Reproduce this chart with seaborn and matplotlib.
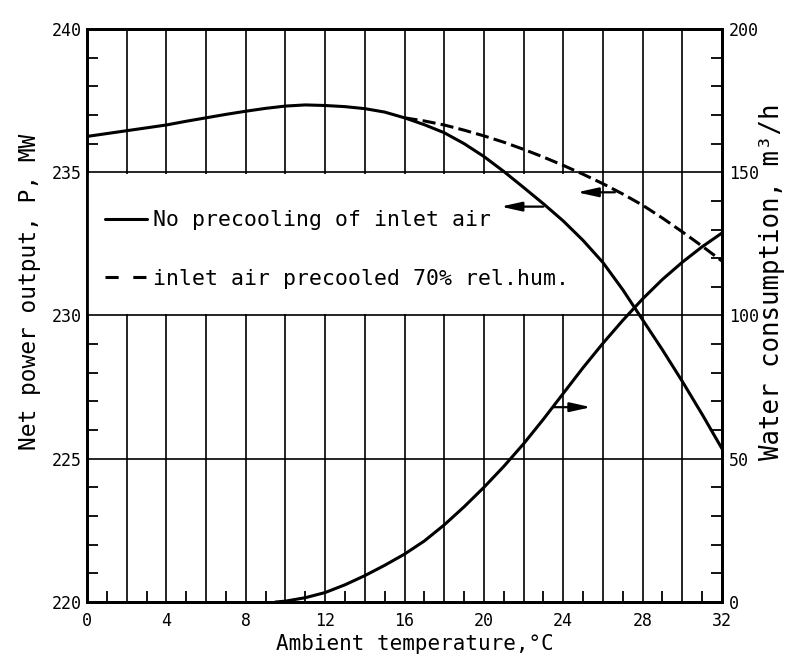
import matplotlib
matplotlib.use("Agg")
import matplotlib.pyplot as plt
import pandas as pd
import seaborn as sns
from matplotlib.lines import Line2D
from matplotlib.patches import Rectangle
from matplotlib.ticker import MultipleLocator, FuncFormatter

# Net power output without inlet-air precooling (MW)
temp_no_precool = [0, 1, 2, 3, 4, 5, 6, 7, 8, 9, 10, 11, 12, 13, 14, 15, 16,
                   17, 18, 19, 20, 21, 22, 23, 24, 25, 26, 27, 28, 29, 30, 31, 32]
power_no_precool = [236.25, 236.35, 236.45, 236.55, 236.65, 236.78, 236.90, 237.02,
                    237.13, 237.23, 237.31, 237.35, 237.33, 237.29, 237.22, 237.10,
                    236.90, 236.66, 236.38, 236.00, 235.55, 235.03, 234.47, 233.90,
                    233.30, 232.62, 231.85, 230.90, 229.85, 228.80, 227.70, 226.55,
                    225.35]

# Net power output with inlet air precooled to 70 % rel. humidity (MW)
temp_precooled = [16, 17, 18, 19, 20, 21, 22, 23, 24, 25, 26, 27, 28, 29, 30, 31, 32]
power_precooled = [236.90, 236.79, 236.65, 236.47, 236.27, 236.05, 235.80, 235.53,
                   235.24, 234.93, 234.60, 234.24, 233.85, 233.40, 232.92, 232.42,
                   231.90]

# Water consumption of the precooler (m3/h)
temp_water = [9.5, 10, 11, 12, 13, 14, 15, 16, 17, 18, 19, 20, 21, 22, 23, 24, 25,
              26, 27, 28, 29, 30, 31, 32]
water_flow = [0.0, 0.3, 1.5, 3.3, 6.0, 9.2, 12.8, 16.7, 21.3, 26.9, 33.2, 40.0,
              47.3, 55.2, 63.8, 72.8, 81.8, 90.3, 98.3, 105.8, 112.6, 118.6, 124.0,
              128.8]

legend_labels = ["No precooling of inlet air",
                 "inlet air precooled 70% rel.hum."]
x_label = "Ambient temperature,°C"
y_label_left = "Net power output, P, MW"
y_label_right = "Water consumption, m³/h"

df_no = pd.DataFrame({"t": temp_no_precool, "p": power_no_precool})
df_pre = pd.DataFrame({"t": temp_precooled, "p": power_precooled})
df_w = pd.DataFrame({"t": temp_water, "w": water_flow})

sns.set_theme(style="white")
plt.rcParams["font.family"] = ["DejaVu Sans Mono", "DejaVu Sans"]
plt.rcParams["text.color"] = "black"
plt.rcParams["axes.labelcolor"] = "black"
plt.rcParams["xtick.color"] = "black"
plt.rcParams["ytick.color"] = "black"

W, H = 793, 659
fig = plt.figure(figsize=(W / 100, H / 100), dpi=100)
left, right, top, bottom = 87, 722, 29, 602
ax = fig.add_axes([left / W, 1 - bottom / H, (right - left) / W, (bottom - top) / H])
ax2 = ax.twinx()

ink = "black"
curve_lw = 2.2
grid_lw = 1.2

ax.set_xlim(0, 32)
ax.set_ylim(220, 240)
ax2.set_ylim(0, 200)

# vertical grid every 2 degC, labels every 4
ax.xaxis.set_major_locator(MultipleLocator(2))
ax.xaxis.set_minor_locator(MultipleLocator(1))
ax.xaxis.set_major_formatter(FuncFormatter(lambda v, p: f"{v:.0f}" if round(v) % 4 == 0 else ""))
ax.grid(axis="x", color=ink, lw=grid_lw, zorder=0.5)
ax.grid(axis="y", visible=False)
ax.set_axisbelow(True)

# horizontal grid lines
for yv in (225, 230, 235):
    ax.axhline(yv, color=ink, lw=grid_lw, zorder=0.9)

# blank panel holding the key
ax.add_patch(Rectangle((0.05, 230.06), 25.0, 4.88, facecolor="white",
                       edgecolor="none", zorder=0.8))

ax.yaxis.set_major_locator(MultipleLocator(5))
ax.yaxis.set_minor_locator(MultipleLocator(1))
ax2.yaxis.set_major_locator(MultipleLocator(50))
ax2.yaxis.set_minor_locator(MultipleLocator(10))

ax.tick_params(axis="both", which="major", length=0, labelsize=12)
ax.tick_params(axis="x", which="major", pad=7)
ax.tick_params(axis="y", which="major", pad=4)
ax.tick_params(axis="both", which="minor", direction="in", length=8, width=1.3, color=ink)
ax2.tick_params(axis="y", which="major", length=0, labelsize=12, pad=5)
ax2.tick_params(axis="y", which="minor", direction="in", length=8, width=1.3, color=ink)
ax.tick_params(axis="y", which="minor", left=True, right=False)
ax.tick_params(axis="x", which="minor", bottom=True, top=False)

for a in (ax, ax2):
    for s in a.spines.values():
        s.set_color(ink)
        s.set_linewidth(2.0)

sns.lineplot(data=df_no, x="t", y="p", ax=ax, color=ink, lw=curve_lw, zorder=3)
sns.lineplot(data=df_pre, x="t", y="p", ax=ax, color=ink, lw=curve_lw, zorder=3)
ax.lines[-1].set_dashes([4.3, 1.7])
sns.lineplot(data=df_w, x="t", y="w", ax=ax2, color=ink, lw=curve_lw, zorder=3)

# arrows pointing to the relevant axis
arrow_kw = dict(arrowstyle="-|>,head_length=0.9,head_width=0.2", color=ink,
                lw=1.6, mutation_scale=14, shrinkA=0, shrinkB=0)
ax.annotate("", xy=(20.85, 233.8), xytext=(23.0, 233.8), arrowprops=arrow_kw, zorder=4)
ax.annotate("", xy=(24.7, 234.3), xytext=(26.6, 234.3), arrowprops=arrow_kw, zorder=4)
ax2.annotate("", xy=(25.4, 68), xytext=(23.5, 68), arrowprops=arrow_kw, zorder=4)

h_dashed = Line2D([], [], color=ink, lw=curve_lw)
h_dashed.set_dashes([4.3, 4.8])
handles = [Line2D([], [], color=ink, lw=curve_lw), h_dashed]
leg = ax.legend(handles, legend_labels, loc="center left",
                bbox_to_anchor=(105 / W, 1 - 249.5 / H), bbox_transform=fig.transFigure,
                frameon=False, fontsize=15.5, handlelength=1.95, handletextpad=0.3,
                labelspacing=1.8, borderpad=0, borderaxespad=0)
leg.set_zorder(5)

ax.set_xlabel(x_label, fontsize=15)
ax.xaxis.set_label_coords((415 - left) / (right - left), (bottom - 634) / (bottom - top))
ax.set_ylabel(y_label_left, fontsize=16.5, va="center")
ax.yaxis.set_label_coords((30 - left) / (right - left), (bottom - 292) / (bottom - top))
ax2.set_ylabel(y_label_right, fontsize=18.5, va="center", rotation=90)
ax2.yaxis.set_label_coords((772 - left) / (right - left), (bottom - 282) / (bottom - top))

ax.set_zorder(2)
ax2.set_zorder(1)
ax.patch.set_visible(False)

fig.savefig("out.png", dpi=100, facecolor="white")
